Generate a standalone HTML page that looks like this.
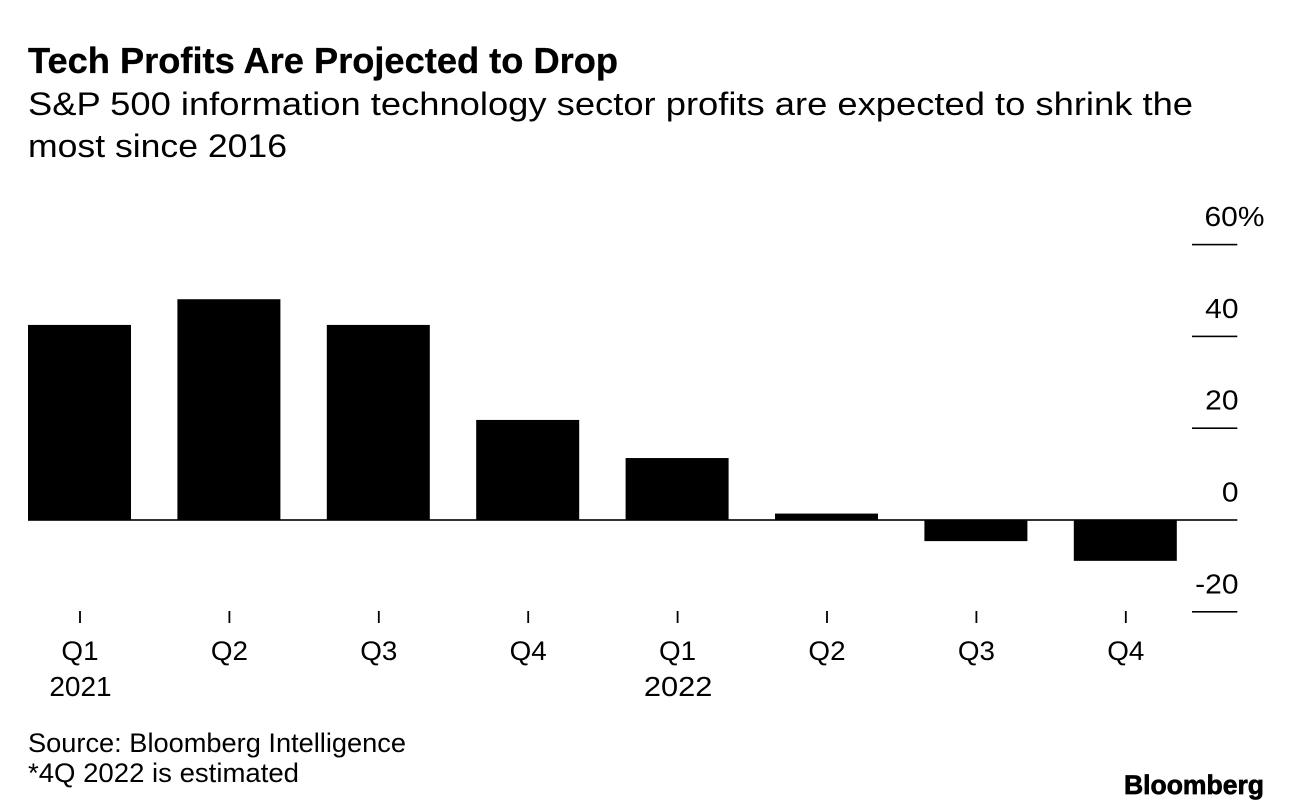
<!DOCTYPE html>
<html lang="en">
<head>
<meta charset="utf-8">
<title>Tech Profits Are Projected to Drop</title>
<style>
html,body{margin:0;padding:0;background:#fff;}
body{width:1292px;height:812px;overflow:hidden;position:relative;font-family:"Liberation Sans",sans-serif;color:#000;}
svg{position:absolute;left:0;top:0;}
text{font-family:"Liberation Sans",sans-serif;fill:#000;}
</style>
</head>
<body>
<svg id="chart" width="1292" height="812" viewBox="0 0 1292 812">
  <text x="28" y="73" font-size="36" font-weight="700" stroke="#000" stroke-width="0.3" textLength="590" lengthAdjust="spacingAndGlyphs">Tech Profits Are Projected to Drop</text>
  <text x="28" y="115" font-size="32.5" textLength="1165" lengthAdjust="spacingAndGlyphs">S&amp;P 500 information technology sector profits are expected to shrink the</text>
  <text x="28" y="157" font-size="32.5" textLength="259" lengthAdjust="spacingAndGlyphs">most since 2016</text>
  <g id="y-axis"></g>
  <g id="bars"></g>
  <g id="x-axis"></g>
  <text x="28" y="752" font-size="27" textLength="378" lengthAdjust="spacingAndGlyphs">Source: Bloomberg Intelligence</text>
  <text x="28" y="782" font-size="27" textLength="271" lengthAdjust="spacingAndGlyphs">*4Q 2022 is estimated</text>
  <text x="1264" y="794" font-size="27" font-weight="700" stroke="#000" stroke-width="0.7" text-anchor="end" textLength="140" lengthAdjust="spacingAndGlyphs">Bloomberg</text>
</svg>
<script>
const quarters = ['Q1', 'Q2', 'Q3', 'Q4', 'Q1', 'Q2', 'Q3', 'Q4'];
const years = ['2021', '', '', '', '2022', '', '', ''];
const profitGrowth = [42.5, 48.1, 42.5, 21.8, 13.5, 1.4, -4.6, -8.9];
const yTicks = [60, 40, 20, 0, -20];
const yTickLabels = ['60%', '40', '20', '0', '-20'];

const NS = 'http://www.w3.org/2000/svg';
const y = function (v) { return 520 - v * 4.59; };
const x = function (i) { return 79.5 + i * 149.4; };
const barWidth = 103;

function make(tag, attrs, parent, txt) {
  const el = document.createElementNS(NS, tag);
  Object.keys(attrs).forEach(function (k) { el.setAttribute(k, attrs[k]); });
  if (txt !== undefined) el.textContent = txt;
  parent.appendChild(el);
  return el;
}

function widen(el, k) {
  el.setAttribute('textLength', el.getComputedTextLength() * k);
  el.setAttribute('lengthAdjust', 'spacingAndGlyphs');
}

const yAxis = document.getElementById('y-axis');
const barsG = document.getElementById('bars');
const xAxis = document.getElementById('x-axis');

yTicks.forEach(function (t, i) {
  const line = make('rect', { x: 1192, y: y(t) - 0.8, width: 45.3, height: 1.6, fill: '#000' }, yAxis);
  
  
  const label = make('text', { x: i === 0 ? 1264.5 : 1238.5, y: y(t) - 18.5, 'font-size': 28, 'text-anchor': 'end' }, yAxis, yTickLabels[i]);
  
  
  widen(label, 1.07);
});

profitGrowth.forEach(function (v, i) {
  const top = Math.min(y(v), y(0));
  const h = Math.abs(y(v) - y(0));
  const bar = make('rect', { x: x(i) - barWidth / 2, y: top, width: barWidth, height: h, fill: '#000' }, barsG);
  
  
});

const baseline = make('rect', { x: 28, y: y(0) - 0.8, width: 1164, height: 1.6, fill: '#000' }, barsG);



quarters.forEach(function (q, i) {
  const tick = make('rect', { x: x(i) - 0.4, y: 611, width: 1.8, height: 12, fill: '#000' }, xAxis);
  
  
  const label = make('text', { x: x(i) + 0.5, y: 660, 'font-size': 27, 'text-anchor': 'middle' }, xAxis, q);
  
  
  widen(label, 1.03);
  if (years[i]) {
    const yr = make('text', { x: x(i) + 1, y: 696, 'font-size': 28, 'text-anchor': 'middle' }, xAxis, years[i]);
    
    
    widen(yr, i === 0 ? 1.0 : 1.1);
  }
});
</script>
</body>
</html>
